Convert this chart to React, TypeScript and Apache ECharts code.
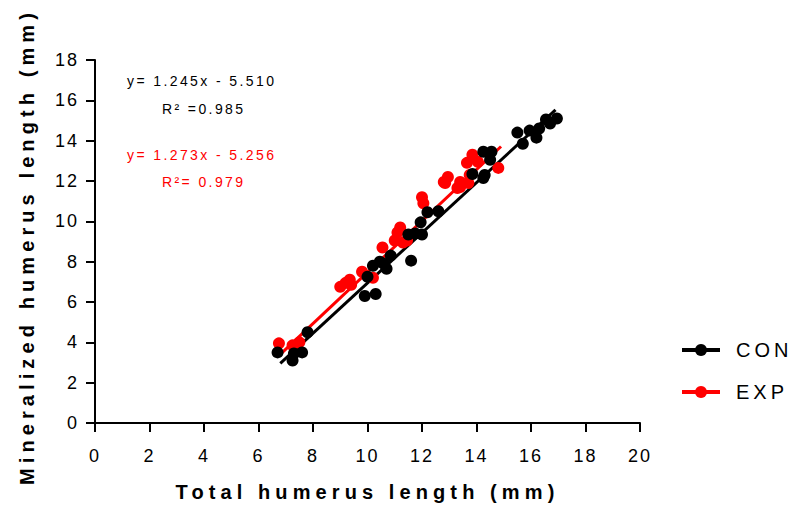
import React, { useEffect, useRef } from "react";
import * as echarts from "echarts";

// CON (black) measurements: [total humerus length, mineralized humerus length]
const conPoints: [number, number][] = [
  [6.7, 3.5], [7.25, 3.1], [7.3, 3.45], [7.6, 3.5], [7.8, 4.5],
  [9.9, 6.3], [10.3, 6.4], [10.0, 7.25], [10.2, 7.8], [10.45, 8.0],
  [10.7, 7.65], [10.85, 8.3], [10.6, 7.9], [11.6, 8.05], [11.5, 9.35],
  [11.75, 9.4], [12.0, 9.35], [11.95, 9.95], [12.2, 10.45], [12.6, 10.5],
  [13.85, 12.35], [14.3, 12.3], [14.25, 12.15], [14.5, 13.05], [14.25, 13.45],
  [14.55, 13.45], [15.5, 14.4], [15.7, 13.85], [15.95, 14.5], [16.2, 14.15],
  [16.3, 14.6], [16.55, 15.05], [16.95, 15.1], [16.7, 14.85],
];

// EXP (red) measurements
const expPoints: [number, number][] = [
  [6.75, 3.95], [7.25, 3.85], [7.5, 4.0], [9.0, 6.75], [9.2, 6.95],
  [9.4, 6.85], [9.35, 7.1], [9.8, 7.5], [10.2, 7.2], [10.55, 8.7],
  [11.0, 9.05], [11.1, 9.45], [11.2, 9.7], [11.3, 8.95], [11.45, 9.05],
  [12.0, 11.2], [12.05, 10.9], [12.8, 11.95], [12.85, 11.9], [12.95, 12.2],
  [13.3, 11.65], [13.4, 11.7], [13.4, 11.95], [13.7, 11.9], [13.75, 12.3],
  [13.65, 12.9], [13.85, 13.3], [14.05, 12.95], [14.8, 12.65],
];

// regression line end points (from the printed equations)
const conFit: [number, number][] = [[6.8, 2.96], [16.9, 15.53]];
const expFit: [number, number][] = [[6.75, 3.34], [14.9, 13.71]];

const seriesNames = ["CON", "EXP"];
const conEquation = "y= 1.245x - 5.510";
const conR2 = "R² =0.985";
const expEquation = "y= 1.273x - 5.256";
const expR2 = "R²= 0.979";

const FONT = "'Liberation Sans', Arial, sans-serif";
const BLACK = "#000000";
const RED = "#ff0000";

const css = `
body { margin: 0; }
#root svg text { letter-spacing: 2px; }
#root svg text[style*="14px"] { letter-spacing: 2.4px; }
#root svg text[style*="20px"] { letter-spacing: 4px; }
#root svg text[style*="bold"] { letter-spacing: 5.1px; }
`;

export default function App() {
  const ref = useRef<HTMLDivElement>(null);

  useEffect(() => {
    if (!ref.current) return;
    const chart = echarts.init(ref.current, undefined, { renderer: "svg" });

    const axisCommon = {
      min: 0,
      interval: 2,
      axisLine: { show: true, onZero: false, lineStyle: { color: BLACK, width: 2 } },
      axisTick: { show: true, length: 9, lineStyle: { color: BLACK, width: 2 } },
      splitLine: { show: false },
      nameLocation: "middle" as const,
    };
    const titleStyle = { fontFamily: FONT, fontSize: 20, fontWeight: "bold" as const, color: BLACK };

    chart.setOption({
      animation: false,
      backgroundColor: "#ffffff",
      grid: { left: 95, right: 156, top: 60, bottom: 85, containLabel: false },
      xAxis: {
        ...axisCommon,
        type: "value",
        max: 20,
        name: "Total humerus length (mm)",
        nameGap: 59,
        nameTextStyle: titleStyle,
        axisLabel: { fontFamily: FONT, fontSize: 18, color: BLACK, margin: 24 },
      },
      yAxis: {
        ...axisCommon,
        type: "value",
        max: 18,
        name: "Mineralized humerus length (mm)",
        nameGap: 58,
        nameTextStyle: { ...titleStyle, padding: [0, 10, 0, 0] },
        axisLabel: { fontFamily: FONT, fontSize: 18, color: BLACK, margin: 16 },
      },
      legend: {
        orient: "vertical",
        left: 675,
        top: 335,
        itemWidth: 38,
        itemHeight: 15,
        itemGap: 22,
        data: seriesNames,
        lineStyle: { width: 4 },
        textStyle: { fontFamily: FONT, fontSize: 20, color: BLACK, padding: [0, 0, 0, 11] },
      },
      graphic: [
        { type: "text", left: 127, top: 74, style: { text: conEquation, fill: BLACK, font: `14px ${FONT}` } },
        { type: "text", left: 162, top: 102, style: { text: conR2, fill: BLACK, font: `14px ${FONT}` } },
        { type: "text", left: 127, top: 148, style: { text: expEquation, fill: RED, font: `14px ${FONT}` } },
        { type: "text", left: 162, top: 175, style: { text: expR2, fill: RED, font: `14px ${FONT}` } },
      ],
      series: [
        {
          name: "CON", type: "line", data: conFit, symbol: "none", showSymbol: false,
          color: BLACK, lineStyle: { color: BLACK, width: 3 }, itemStyle: { color: BLACK }, z: 2,
        },
        {
          name: "EXP", type: "line", data: expFit, symbol: "none", showSymbol: false,
          color: RED, lineStyle: { color: RED, width: 3 }, itemStyle: { color: RED }, z: 2,
        },
        {
          name: "EXP", type: "scatter", data: expPoints, symbol: "circle", symbolSize: 12,
          itemStyle: { color: RED, opacity: 1 }, z: 3,
        },
        {
          name: "CON", type: "scatter", data: conPoints, symbol: "circle", symbolSize: 12,
          itemStyle: { color: BLACK, opacity: 1 }, z: 3,
        },
      ],
    });

    return () => chart.dispose();
  }, []);

  return (
    <>
      <style>{css}</style>
      <div ref={ref} style={{ position: "absolute", left: 0, top: 0, width: 796, height: 508 }} />
    </>
  );
}
